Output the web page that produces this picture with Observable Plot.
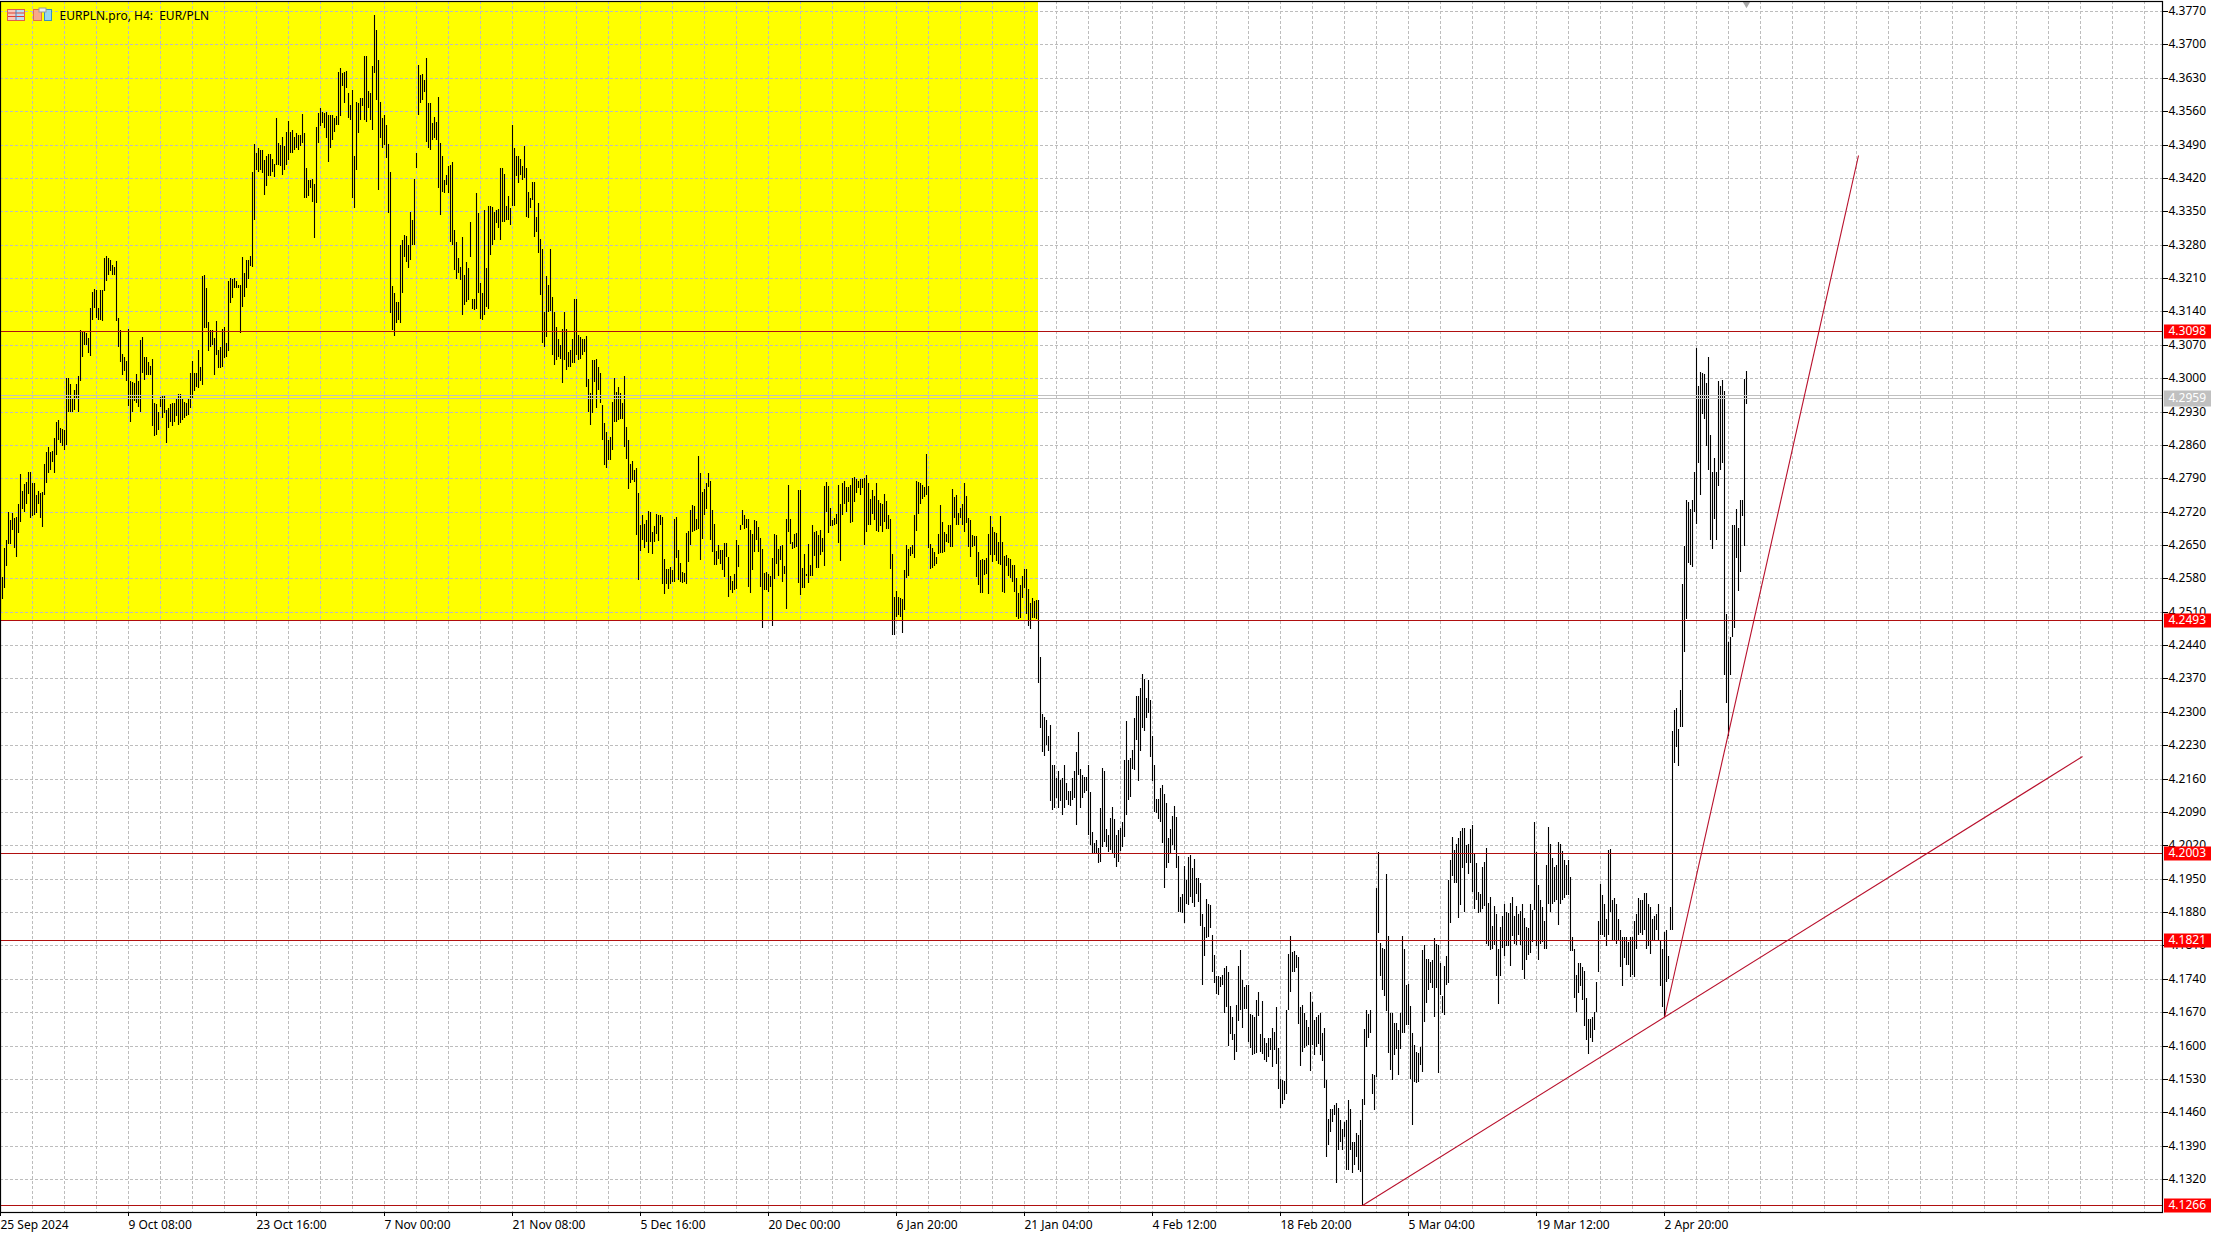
<!DOCTYPE html>
<html><head><meta charset="utf-8">
<script src="https://cdn.jsdelivr.net/npm/d3@7"></script>
<script src="https://cdn.jsdelivr.net/npm/@observablehq/plot@0.6"></script>
<style>html,body{margin:0;padding:0;background:#fff;overflow:hidden}#c{position:relative;width:2220px;height:1234px}svg{display:block}#icons{position:absolute;left:0;top:0}</style>
</head><body><div id="c"></div>
<script>
// high/low of each H4 bar in units of 0.0001 above 4.0000
const autumnRally=[[2600,2510],[2583,2536],[2643,2559],[2660,2606],[2720,2652],[2702,2653],[2718,2681],[2706,2643],[2709,2624],[2736,2675],[2799,2699],[2764,2725],[2778,2720],[2783,2737],[2803,2758],[2803,2706],[2780,2710],[2780,2713],[2755,2717],[2764,2737],[2760,2706],[2762,2687],[2820,2755],[2845,2780],[2855,2800],[2846,2807],[2848,2825],[2874,2800],[2909,2839],[2912,2870],[2895,2863],[2893,2858],[2891,2849],[3001,2860],[3001,2930],[2988,2930],[2958,2930],[2975,2933],[2988,2956],[3005,2928],[3100,2993],[3096,3044],[3096,3070],[3094,3070],[3084,3052],[3147,3047],[3180,3122],[3187,3147],[3185,3126],[3147,3121],[3185,3122],[3184,3119],[3252,3182],[3257,3203],[3251,3217],[3248,3224],[3238,3217],[3234,3217],[3245,3119],[3126,3066],[3101,3033],[3051,3007],[3045,3014],[3035,2995],[3103,2942],[2995,2909],[2991,2930],[2990,2951],[3009,2948],[2993,2940],[3080,2930],[3087,3010],[3045,2996],[3045,3007],[3033,3007],[3026,3007],[3040,2900],[2948,2878],[2946,2881],[2930,2891],[2961,2940],[2965,2916],[2965,2927],[2933,2863],[2937,2895],[2946,2909],[2948,2900],[2948,2909],[2958,2920],[2967,2902],[2967,2905],[2958,2912],[2949,2916],[2948,2920],[2958,2923],[3010,2937],[3035,2958],[3010,2972],[3010,2982],[3059,2979],[3024,2993],[3215,2986],[3217,3105],[3189,3105],[3117,3056],[3101,3066],[3101,3070],[3084,3007],[3119,3049],[3059,3021],[3065,3021],[3103,3024],[3107,3042],[3073,3045],[3203,3056],[3210,3158],[3207,3168],[3210,3189],[3203,3189],[3196,3189],[3196,3094],[3254,3150],[3220,3171],[3248,3189],[3248,3207],[3257,3236]];
const novemberPeak=[[3433,3234],[3491,3332],[3473,3437],[3482,3433],[3479,3437],[3479,3430],[3458,3384],[3465,3402],[3470,3423],[3470,3423],[3459,3433],[3449,3421],[3545,3447],[3493,3447],[3489,3444],[3505,3426],[3486,3437],[3517,3447],[3540,3458],[3517,3472],[3521,3472],[3505,3479],[3514,3482],[3510,3479],[3510,3486],[3554,3493],[3514,3377],[3440,3377],[3416,3381],[3416,3398],[3417,3370],[3407,3293],[3526,3367],[3557,3493],[3566,3528],[3559,3535],[3556,3524],[3559,3503],[3552,3454],[3552,3482],[3552,3500],[3545,3517],[3549,3531],[3643,3531],[3650,3549],[3640,3612],[3643,3577],[3645,3608],[3598,3545],[3573,3542],[3605,3377],[3465,3356],[3580,3437],[3577,3514],[3587,3542],[3587,3570],[3675,3542],[3676,3538],[3603,3566],[3598,3542],[3654,3521],[3762,3640],[3731,3584],[3668,3395],[3580,3503],[3545,3482],[3552,3489],[3531,3461],[3491,3346],[3433,3136],[3193,3101],[3178,3088],[3160,3115],[3160,3122],[3279,3115],[3290,3178],[3300,3255],[3298,3244],[3279,3230],[3349,3248],[3332,3279],[3417,3279],[3473,3440],[3657,3552],[3636,3577],[3638,3584],[3626,3601],[3671,3496],[3577,3482],[3577,3479],[3535,3500],[3547,3503],[3538,3500],[3589,3398],[3494,3342],[3466,3391],[3416,3388],[3426,3405],[3445,3388],[3447,3286],[3453,3279],[3311,3227],[3286,3207],[3251,3220],[3234,3206],[3295,3132],[3216,3153],[3244,3160],[3230,3164],[3328,3255],[3167,3146],[3167,3143],[3389,3146],[3347,3178],[3199,3125],[3178,3122],[3353,3132],[3230,3150],[3360,3146],[3360,3258],[3358,3279],[3349,3290],[3353,3325],[3354,3314],[3440,3290],[3440,3328],[3428,3328],[3360,3332],[3382,3332],[3356,3321],[3531,3360],[3482,3360],[3466,3423],[3465,3409],[3459,3426],[3444,3416],[3486,3419],[3440,3339],[3391,3335],[3377,3356],[3412,3374],[3412,3297],[3339,3307],[3367,3262],[3291,3174],[3270,3073],[3139,3066],[3214,3087],[3195,3139]];
const decemberSlide=[[3270,3141],[3171,3048],[3139,3027],[3108,3038],[3083,3045],[3069,3041],[3102,2989],[3139,3038],[3102,3017],[3055,3024],[3059,3024],[3083,3031],[3165,3032],[3165,3048],[3090,3039],[3087,3041],[3083,3048],[3083,3055],[3088,2982],[2999,2929],[2968,2901],[3038,2926],[3039,2992],[3041,2938],[3024,2975],[3010,2947],[2943,2870],[2905,2817],[2887,2812],[2870,2828],[2877,2829],[2950,2849],[3001,2908],[2971,2908],[2982,2912],[2969,2915],[2947,2915],[3004,2856],[2898,2831],[2871,2768],[2819,2779],[2826,2786],[2807,2782],[2812,2670],[2759,2577],[2691,2637],[2712,2660],[2693,2644],[2702,2656],[2721,2633],[2719,2656],[2677,2632],[2689,2656],[2714,2674],[2712,2658],[2712,2691],[2709,2569],[2621,2548],[2600,2569],[2600,2558],[2604,2569],[2598,2572],[2705,2572],[2709,2623],[2640,2576],[2612,2572],[2593,2570],[2591,2572],[2675,2569],[2679,2614],[2723,2649],[2733,2677],[2731,2679],[2705,2681],[2836,2684],[2801,2618],[2761,2663],[2768,2712],[2779,2726],[2800,2772],[2784,2660],[2723,2635],[2693,2607],[2637,2609],[2649,2621],[2640,2611],[2639,2597],[2654,2582],[2654,2625],[2625,2541],[2586,2556],[2574,2549],[2590,2556],[2660,2558],[2649,2604],[2691,2681],[2724,2691],[2712,2684],[2705,2686],[2705,2562],[2682,2549],[2674,2597],[2702,2635],[2701,2660],[2688,2635],[2665,2562],[2642,2476],[2591,2555],[2593,2555],[2590,2551],[2586,2562],[2623,2481],[2674,2579],[2670,2611],[2642,2586],[2647,2618],[2649,2572],[2605,2590],[2705,2516],[2775,2677],[2705,2653],[2656,2642],[2674,2644],[2675,2646]];
const januaryRange=[[2766,2570],[2766,2545],[2601,2559],[2632,2559],[2589,2584],[2652,2571],[2608,2584],[2692,2585],[2678,2626],[2680,2601],[2671,2601],[2682,2629],[2664,2636],[2774,2606],[2783,2720],[2774,2676],[2727,2690],[2702,2690],[2706,2692],[2716,2695],[2776,2655],[2736,2617],[2780,2713],[2785,2736],[2771,2720],[2772,2741],[2776,2696],[2790,2699],[2792,2741],[2788,2759],[2785,2769],[2788,2755],[2788,2769],[2790,2650],[2797,2678],[2780,2692],[2746,2692],[2766,2715],[2753,2703],[2781,2680],[2745,2678],[2738,2690],[2735,2678],[2756,2699],[2742,2683],[2713,2683],[2704,2599],[2632,2462],[2540,2462],[2554,2500],[2540,2503],[2538,2500],[2536,2465],[2597,2513],[2650,2580],[2641,2584],[2645,2626],[2650,2631],[2713,2622],[2785,2680],[2782,2715],[2779,2737],[2776,2746],[2772,2751],[2841,2755],[2774,2643],[2652,2599],[2643,2601],[2636,2606],[2624,2611],[2674,2632],[2734,2634],[2699,2634],[2678,2636],[2673,2657],[2692,2655],[2692,2645],[2767,2645],[2751,2706],[2755,2692],[2718,2692],[2727,2706],[2736,2692],[2781,2678],[2753,2697],[2706,2645],[2702,2625],[2671,2645],[2669,2648],[2669,2582],[2636,2566],[2618,2550],[2620,2550],[2618,2587],[2622,2590],[2673,2547],[2711,2629],[2687,2615],[2678,2629],[2676,2617],[2657,2610],[2711,2608],[2657,2552],[2627,2549],[2629,2606],[2622,2585],[2620,2580],[2608,2573],[2608,2552],[2580,2500],[2550,2494],[2566,2496],[2585,2538],[2599,2559],[2599,2506],[2557,2480],[2529,2473],[2538,2496],[2533,2496],[2534,2494],[2535,2361]];
const winterDecline=[[2415,2266],[2296,2215],[2290,2208],[2282,2231],[2250,2217],[2273,2112],[2189,2094],[2189,2098],[2161,2119],[2175,2098],[2157,2112],[2161,2084],[2189,2098],[2150,2115],[2135,2105],[2135,2103],[2161,2115],[2175,2119],[2215,2063],[2257,2168],[2180,2098],[2168,2119],[2164,2129],[2164,2133],[2189,2042],[2131,2021],[2047,2003],[2024,2003],[2031,2003],[2014,1984],[2098,1986],[2182,2017],[2175,2028],[2054,2016],[2042,2007],[2077,2010],[2100,2003],[2075,1993],[2042,1975],[2052,1986],[2056,2009],[2068,2017],[2198,2038],[2280,2084],[2199,2115],[2203,2121],[2219,2180],[2287,2178],[2334,2240],[2334,2154],[2350,2217],[2380,2266],[2369,2259],[2329,2287],[2367,2297],[2324,2205],[2250,2154],[2189,2091],[2117,2087],[2117,2075],[2140,2070],[2147,2026],[2128,1930],[2108,1972],[2035,1984],[2054,2003],[2082,2021],[2103,2010],[2080,1972],[1998,1881],[1912,1881],[1919,1879],[1977,1858],[1947,1898],[1996,1895],[2000,1912],[1972,1900],[1991,1891],[1951,1919],[1951,1902],[1942,1851],[1876,1727],[1849,1788],[1907,1825],[1898,1828],[1895,1846],[1832,1755],[1790,1732],[1746,1709],[1746,1706],[1744,1723],[1748,1727],[1762,1669],[1768,1681],[1755,1599],[1683,1624],[1660,1611],[1624,1569],[1685,1587],[1767,1652],[1801,1674],[1737,1636],[1723,1676],[1727,1676],[1727,1608],[1667,1594],[1664,1580],[1660,1582],[1696,1585],[1713,1662],[1624,1587],[1694,1583],[1615,1569],[1606,1566],[1615,1576],[1617,1590],[1636,1555],[1629,1590],[1681,1562],[1594,1508],[1529,1470],[1527,1478],[1526,1485],[1674,1499],[1793,1674],[1830,1713],[1797,1755],[1799,1755],[1790,1762],[1786,1646],[1681,1557],[1685,1587],[1669,1594],[1653,1599],[1639,1601]];
const februaryLow=[[1713,1547],[1692,1601],[1654,1580],[1660,1598],[1664,1604],[1668,1580],[1626,1568],[1636,1512],[1528,1367],[1447,1391],[1466,1419],[1466,1440],[1475,1454],[1479,1311],[1470,1380],[1443,1398],[1426,1382],[1440,1409],[1444,1340],[1486,1340],[1466,1381],[1398,1333],[1398,1349],[1417,1367],[1412,1339],[1444,1335],[1487,1266],[1634,1475],[1675,1598],[1667,1617],[1675,1626],[1541,1498],[1538,1465],[1930,1535],[2007,1836],[1815,1746],[1804,1717],[1802,1703],[1960,1673],[1829,1584],[1669,1549],[1669,1528],[1647,1580],[1647,1592],[1633,1538],[1669,1592],[1829,1626],[1802,1626],[1727,1643],[1729,1643],[1683,1531],[1627,1433],[1601,1524],[1587,1521],[1585,1524],[1598,1559],[1801,1545],[1811,1650],[1781,1690],[1781,1717],[1776,1731],[1779,1720],[1825,1661],[1813,1720],[1811,1542],[1773,1706],[1704,1669],[1766,1664],[1788,1727],[1948,1731],[1990,1857],[2037,1956],[2010,1941],[2023,1941],[2035,1867],[2051,1895],[2056,1972],[2056,1881],[2021,1983],[2023,1960],[2054,1983],[2063,1923],[2004,1886],[1983,1906],[1923,1879],[1918,1881],[1974,1886],[1986,1892],[2014,1813],[1900,1808],[1911,1800],[1851,1802],[1893,1811],[1876,1746],[1802,1688],[1848,1745],[1871,1804],[1897,1787],[1881,1808],[1879,1808],[1899,1767],[1911,1829],[1871,1814],[1893,1811],[1876,1832],[1883,1811],[1897,1759],[1867,1739],[1848,1780],[1846,1790],[1897,1794],[1885,1818],[2070,1885],[2007,1809],[1937,1779]];
const marchRange=[[1906,1813],[1891,1818],[1862,1803],[1979,1803],[2059,1896],[2023,1881],[1994,1896],[1974,1901],[1979,1906],[2028,1852],[2023,1896],[2008,1906],[1989,1910],[1979,1915],[1989,1915],[1954,1798],[1827,1798],[1803,1700],[1749,1671],[1774,1710],[1774,1725],[1764,1695],[1756,1642],[1700,1612],[1656,1583],[1656,1617],[1661,1607],[1671,1632],[1734,1671],[1862,1754],[1940,1832],[1915,1832],[1896,1827],[1866,1808],[2010,1832],[2013,1881],[1906,1822],[1910,1822],[1896,1813],[1866,1822],[1842,1764],[1827,1725],[1827,1783],[1827,1769],[1818,1769],[1827,1744],[1827,1749],[1862,1744],[1876,1803],[1910,1832],[1906,1837],[1906,1832],[1920,1842],[1920,1803],[1896,1808],[1891,1793],[1866,1822],[1871,1822],[1876,1842],[1896,1822],[1822,1725],[1803,1680],[1838,1660],[1842,1734],[1788,1739],[1891,1842]];
const aprilSpike=[[2260,1842],[2304,2192],[2309,2226],[2265,2187],[2346,2269],[2568,2269],[2647,2426],[2744,2495],[2741,2612],[2725,2608],[2744,2603],[2803,2720],[3064,2695],[2984,2823],[3013,2754],[3011,2925],[3008,2915],[2989,2857],[3045,2808],[2881,2661],[2803,2642],[2832,2705],[2803,2661],[2994,2774],[2984,2808],[2996,2823],[2974,2378],[2505,2319],[2446,2250],[2456,2378],[2691,2456],[2691,2475],[2725,2622],[2686,2554],[2744,2593],[2744,2710],[2999,2647],[3015,2945]];

const yTicks=[4.377,4.37,4.363,4.356,4.349,4.342,4.335,4.328,4.321,4.314,4.307,4.3,4.293,4.286,4.279,4.272,4.265,4.258,4.251,4.244,4.237,4.23,4.223,4.216,4.209,4.202,4.195,4.188,4.181,4.174,4.167,4.16,4.153,4.146,4.139,4.132];
const timeLabels=["25 Sep 2024","9 Oct 08:00","23 Oct 16:00","7 Nov 00:00","21 Nov 08:00","5 Dec 16:00","20 Dec 00:00","6 Jan 20:00","21 Jan 04:00","4 Feb 12:00","18 Feb 20:00","5 Mar 04:00","19 Mar 12:00","2 Apr 20:00"];
const barsPerLabel=64, barsPerGrid=16, totalSlots=1081;
const levels=[4.3098,4.2493,4.2003,4.1821,4.1266];
const bidAsk=[4.2964,4.2959];
const lastPrice=4.2959;
const zoneBars=[0,519], zoneLow=4.2493, priceTop=4.3791, priceBottom=4.1251;
const supportLine=[[681,4.1266],[1041,4.2208]];
const steepLine=[[832,4.1661],[929,4.3467]];

const hl=[...autumnRally,...novemberPeak,...decemberSlide,...januaryRange,...winterDecline,...februaryLow,...marchRange,...aprilSpike];
const bars=hl.map((d,i)=>({i,high:4+d[0]/1e4,low:4+d[1]/1e4}));
const lastBar=bars.length-1;
const xGrid=d3.range(barsPerGrid,totalSlots,barsPerGrid);
const xTicks=timeLabels.map((_,k)=>k*barsPerLabel);
const tags=levels.map(v=>({v,fill:"#ff0000",w:14})).concat([{v:lastPrice,fill:"#c0c0c0",w:16}]);
const gridStyle={stroke:"#bdbdbd",strokeWidth:1,strokeDasharray:"3,2"};
const red="#b00f0f", trend="#b8102c";

const chart=Plot.plot({
  width:2220,height:1234,marginLeft:0,marginRight:58,marginTop:1,marginBottom:22,
  style:{fontFamily:"'Noto Sans',sans-serif",fontSize:"12px",background:"#fff",color:"#000"},
  x:{domain:[0,totalSlots],axis:null},
  y:{domain:[priceBottom,priceTop],axis:null,round:true},
  marks:[
    Plot.rect([0],{x1:zoneBars[0],x2:zoneBars[1],y1:zoneLow,y2:priceTop,fill:"#ffff00"}),
    Plot.ruleX(xGrid,gridStyle),
    Plot.ruleY(yTicks,gridStyle),
    Plot.ruleX(bars,{x:"i",y1:"low",y2:"high",stroke:"#000",strokeWidth:1.1}),
    Plot.ruleY(bidAsk,{stroke:"#c0c0c0",strokeWidth:1}),
    Plot.ruleY(levels,{stroke:red,strokeWidth:1}),
    Plot.link([0],{x1:supportLine[0][0],y1:supportLine[0][1],x2:supportLine[1][0],y2:supportLine[1][1],stroke:trend,strokeWidth:1.1}),
    Plot.link([0],{x1:steepLine[0][0],y1:steepLine[0][1],x2:steepLine[1][0],y2:steepLine[1][1],stroke:trend,strokeWidth:1.1}),
    Plot.dot([0],{x:lastBar,y:priceTop,symbol:"triangle",r:3,rotate:180,fill:"#a8a8a8",dy:2}),
    Plot.axisY({anchor:"right",ticks:yTicks,tickFormat:d=>d.toFixed(4),tickSize:5,tickPadding:1,label:null,fontSize:12}),
    Plot.axisX({anchor:"bottom",ticks:xTicks,tickFormat:i=>timeLabels[i/barsPerLabel],tickSize:4,tickPadding:4,textAnchor:"start",label:null,fontSize:12}),
    Plot.frame({stroke:"#000",strokeWidth:1.2}),
    Plot.tickY(tags,{y:"v",stroke:"fill",strokeWidth:"w",insetLeft:2164,insetRight:-49}),
    Plot.text(tags,{y:"v",text:d=>d.v.toFixed(4),frameAnchor:"right",textAnchor:"start",dx:6,fill:"#fff",fontSize:12}),
    Plot.text(["EURPLN.pro, H4:  EUR/PLN"],{frameAnchor:"top-left",textAnchor:"start",lineAnchor:"middle",dx:59,dy:15,fill:"#000",fontSize:12})
  ]
});
document.getElementById("c").appendChild(chart);
document.getElementById("c").insertAdjacentHTML("beforeend",`<svg id="icons" width="60" height="24" aria-hidden="true">
<rect x="7.5" y="9.5" width="17" height="11" fill="#f6c8bc" stroke="#e0604a"/><rect x="16" y="10" width="8" height="10" fill="#bcdcf4"/>
<path d="M8 13h16M8 16.5h16" stroke="#e04030"/><path d="M16 10v10" stroke="#4a80b8"/>
<rect x="33.5" y="9.5" width="8" height="11" fill="#f8a888" stroke="#e0704a"/><rect x="44.5" y="9.5" width="7" height="11" fill="#98d4f0" stroke="#3a90c0"/><rect x="39" y="8" width="7" height="4" fill="#eee" stroke="#999"/></svg>`);
</script></body></html>
